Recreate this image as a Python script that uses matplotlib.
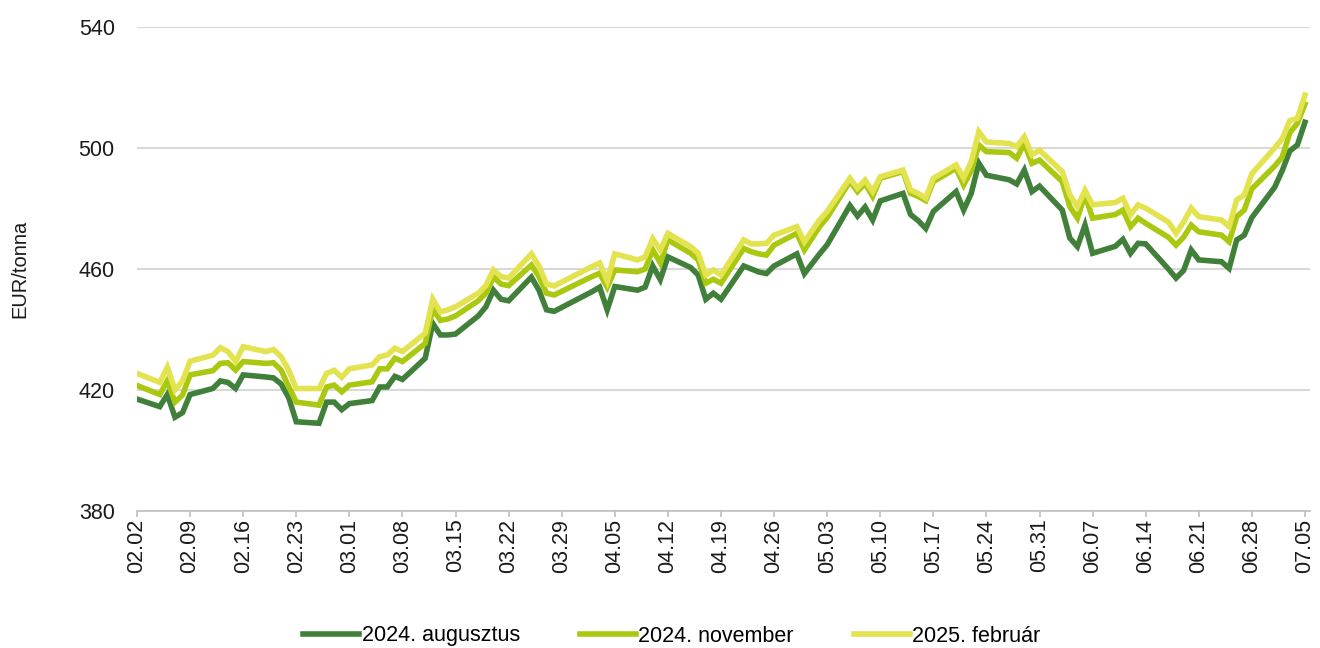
import numpy as np
import pandas as pd
import matplotlib
matplotlib.use('Agg')
import matplotlib.pyplot as plt
import matplotlib.dates as mdates

plt.rcParams['font.family'] = ['Liberation Sans', 'DejaVu Sans']

# trading days (2024)
days = {
    2: [2, 5, 6, 7, 8, 9, 12, 13, 14, 15, 16, 19, 20, 21, 22, 23, 26, 27, 28, 29],
    3: [1, 4, 5, 6, 7, 8, 11, 12, 13, 14, 15, 18, 19, 20, 21, 22, 25, 26, 27, 28],
    4: [2, 3, 4, 5, 8, 9, 10, 11, 12, 15, 16, 17, 18, 19, 22, 23, 24, 25, 26, 29, 30],
    5: [2, 3, 6, 7, 8, 9, 10, 13, 14, 15, 16, 17, 20, 21, 22, 23, 24, 27, 28, 29, 30, 31],
    6: [3, 4, 5, 6, 7, 10, 11, 12, 13, 14, 17, 18, 19, 20, 21, 24, 25, 26, 27, 28],
    7: [1, 2, 3, 4, 5],
}
dates = pd.to_datetime([f'2024-{m:02d}-{d:02d}' for m in days for d in days[m]])

aug = [417, 414.5, 418.5, 411, 412.5, 418.5, 420.5, 423, 422.5, 420.5, 425, 424.3, 424, 422, 417.5, 409.5, 409, 416, 416, 413.5,
       415.5, 416.5, 421, 421, 424.5, 423.5, 430.5, 442, 438.2, 438.2, 438.5, 444.5, 447.5, 453, 450, 449.5, 457.3, 453, 446.5, 446,
       452.5, 454, 446.5, 454.2, 453, 454, 461, 456.5, 464, 460.5, 458, 450, 452, 450, 461, 460, 459, 458.5, 461, 465, 458.5,
       465, 468, 481, 477.5, 480.5, 476.2, 482.5, 485, 478, 476, 473.4, 479, 485.6, 479.5, 485, 495, 491, 489.5, 488.1, 492.7, 485.6, 487.4,
       479.5, 470.2, 467.4, 474.5, 465.2, 467.5, 469.8, 465.2, 468.5, 468.3, 460, 457, 459.5, 466.3, 463, 462.4, 460.2, 469.6, 471.2, 477,
       487, 492.5, 499, 501, 508.5]
nov = [421.5, 418.5, 423, 416, 418.3, 425, 426.4, 428.8, 429, 426.6, 429.4, 428.8, 429, 426.6, 421.1, 416, 415, 421, 421.6, 419.4,
       421.6, 422.7, 427, 427, 430.5, 429.4, 435.4, 447, 443, 443.5, 444.5, 449.5, 452, 457.4, 455, 454.5, 461.3, 457.5, 452, 451.4,
       457.5, 458.6, 454, 459.7, 459.1, 460, 466.3, 462, 469.6, 465.2, 463, 455.3, 456.6, 455.3, 466.8, 465.7, 465, 464.6, 467.9, 471.8, 466.3,
       474, 477, 489, 485.6, 488.3, 484, 490, 492.2, 485, 484, 482.6, 488.9, 493.3, 487.8, 492.5, 501, 498.8, 498.5, 496.6, 501.5, 494.9, 496,
       488.9, 480.6, 476.8, 484.5, 476.8, 478, 479.5, 474, 476.8, 475.1, 470.5, 467.9, 470.5, 474.5, 472.3, 471.2, 469, 477.3, 479.5, 486.5,
       494, 497, 505, 508.2, 514.5]
feb = [425.5, 422.5, 427.5, 420, 423, 429.5, 431.5, 434, 432.7, 429.4, 434.3, 432.7, 433.4, 431, 426.6, 420.5, 420.5, 425.5, 426.5, 424.2,
       427, 428.3, 431, 431.6, 433.8, 432.7, 438.8, 450, 445.8, 446.5, 447.5, 452, 454.5, 459.7, 457.5, 457, 465, 461, 455, 454.4,
       460.8, 462, 456, 465, 463, 464, 470, 466.3, 471.8, 467.4, 465.2, 458, 459.7, 458, 469.6, 468.3, 468.3, 468.5, 471.2, 474, 469,
       476.2, 479, 490, 486.7, 489.4, 485.6, 490.5, 492.7, 486.1, 485, 483.4, 490, 494.4, 490, 495.5, 505.4, 502, 501.5, 500.4, 503.7, 497.7, 499.3,
       492.2, 484.5, 480.6, 486, 481.2, 482, 483.4, 477.9, 481.2, 480.1, 475.5, 471.8, 475.5, 480.1, 477.3, 476.2, 474, 482.8, 484.5, 491.5,
       500, 503, 509, 509.8, 517.5]

series = [
    ('2024. augusztus', aug, '#41803a'),
    ('2024. november', nov, '#a9c80f'),
    ('2025. február', feb, '#e3e24f'),
]

fig = plt.figure(figsize=(13.2, 6.48), dpi=100)
ax = fig.add_axes([137 / 1320, 1 - 511 / 648, (1310 - 137) / 1320, (511 - 27) / 648])

for name, vals, col in series:
    ax.plot(dates, vals, color=col, linewidth=4, label=name, solid_joinstyle='miter')

ax.set_ylim(380, 540)
ax.set_yticks([380, 420, 460, 500, 540])
ax.set_xlim(pd.Timestamp('2024-02-02'), pd.Timestamp('2024-07-05') + pd.Timedelta(hours=16))
ax.set_xticks(pd.date_range('2024-02-02', '2024-07-05', freq='7D'))
ax.xaxis.set_major_formatter(mdates.DateFormatter('%m.%d'))

ax.grid(axis='y', color='#d9d9d9', linewidth=1.5)
ax.set_axisbelow(True)
for s in ['top', 'right', 'left']:
    ax.spines[s].set_visible(False)
ax.spines['bottom'].set_color('#bfbfbf')
ax.spines['bottom'].set_linewidth(1.2)

ax.tick_params(axis='y', length=0, pad=16, labelsize=15.5, labelcolor='#1a1a1a')
ax.tick_params(axis='x', length=4, color='#bfbfbf', width=1.2, pad=1.5,
               labelsize=15.5, labelcolor='#1a1a1a', labelrotation=90)

ax.set_ylabel('EUR/tonna', fontsize=14.5, color='#1a1a1a')
ax.yaxis.set_label_coords((29 - 137) / 1173, 0.5)

fig.legend(loc='center', bbox_to_anchor=(0.509, 1 - 636 / 648), ncol=3, frameon=False,
           fontsize=15.5, handlelength=2.6, handletextpad=0.1, columnspacing=2.8,
           borderpad=0, borderaxespad=0)

fig.savefig('out.png', dpi=100)
